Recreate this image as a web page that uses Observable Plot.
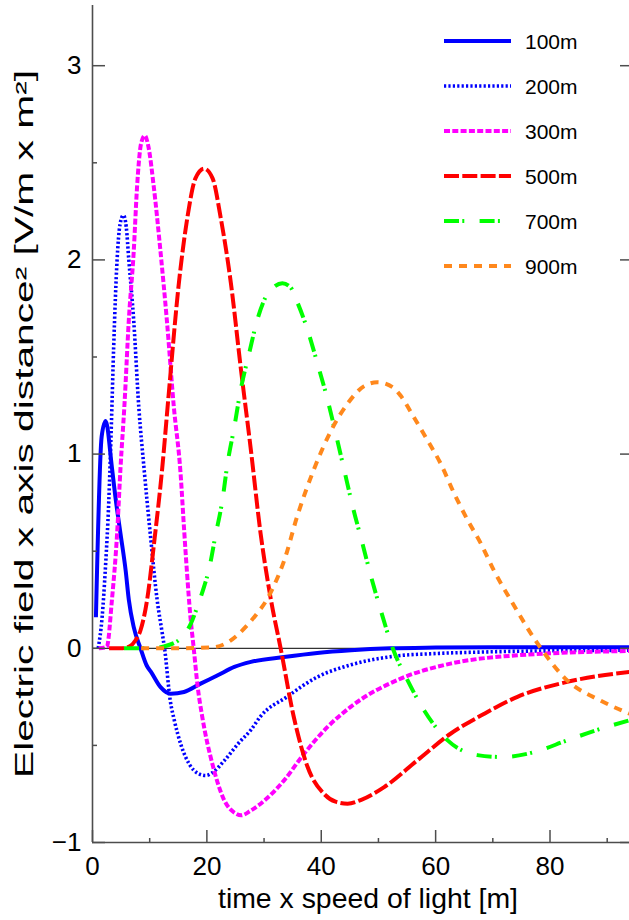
<!DOCTYPE html>
<html><head><meta charset="utf-8">
<script src="https://cdn.jsdelivr.net/npm/d3@7"></script>
<script src="https://cdn.jsdelivr.net/npm/@observablehq/plot@0.6"></script>
<style>
body{margin:0;background:#fff;}
#wrap{position:relative;width:629px;height:920px;}
#wrap svg.legend{position:absolute;left:0;top:0;}
</style></head><body><div id="wrap"></div>
<script>
const seriesNames = ["100m","200m","300m","500m","700m","900m"];
const seriesColors = ["#0000ff","#0000ff","#ff00ff","#ff0000","#00ff00","#ff881c"];
const seriesDash = [null,"2.2,2.2","6,2.3","15,3.3","15,3.3,2,15.3","8,7"];
const seriesWidth = [4,3.6,4,4,4,4];

const x100 = [0.6,1.6,2.3,3.4,4.0,4.9,5.8,6.35,7.2,8.4,9.5,10.2,11.9,13.7,16,18.9,21.9,24.8,27.7,33.5,39.3,45.2,52,60,70,80,93.9];
const y100 = [0.16,1.09,1.17,0.93,0.78,0.59,0.40,0.25,0.11,0.0,-0.09,-0.12,-0.2,-0.234,-0.225,-0.182,-0.139,-0.096,-0.07,-0.045,-0.024,-0.01,0.0,0.004,0.006,0.006,0.006];

const x200 = [1.0,1.68,2.27,2.85,3.3,3.7,4.3,4.8,5.4,5.9,6.35,7.2,8.1,9.0,10.1,11.3,12.2,12.6,13.6,14.3,15.5,17,18.5,19.8,21,23,25.5,27.7,29.4,34,39.3,45.2,52.7,60,68.4,80,93.9];
const y200 = [0.0,0.16,0.42,0.76,1.15,1.55,2.0,2.18,2.23,2.17,2.0,1.69,1.24,0.93,0.59,0.25,0.077,0.0,-0.27,-0.37,-0.5,-0.6,-0.645,-0.655,-0.64,-0.58,-0.49,-0.42,-0.35,-0.25,-0.148,-0.085,-0.041,-0.027,-0.019,-0.013,-0.01];

const x300 = [1.1,2.5,3.4,4.3,4.9,5.6,6.35,7.2,7.8,8.5,9.15,9.8,10.7,11.9,13.0,14.2,15.4,16.0,16.5,17.1,17.7,18.4,19.2,21,23,25,26,27.7,30.6,33.5,37,41.1,45.2,53.9,62.6,74.3,93.9];
const y300 = [0.0,0.007,0.25,0.59,0.93,1.26,1.69,2.04,2.38,2.6,2.64,2.58,2.38,2.04,1.69,1.25,0.9,0.62,0.4,0.17,0.0,-0.2,-0.354,-0.6,-0.78,-0.85,-0.86,-0.835,-0.77,-0.68,-0.543,-0.405,-0.30,-0.156,-0.079,-0.036,-0.014];

const x500 = [2.9,5,6.5,7.5,8.4,9.55,10.8,12.2,13.3,15.1,16.6,18,19.5,21,22.4,24.2,25.9,27.7,29.4,31.2,32.9,35.2,37.6,40.5,42.5,44.6,47,51,56.8,62.6,68.5,74.3,83,93.9];
const y500 = [0,0,0.01,0.04,0.093,0.25,0.55,0.93,1.3,1.88,2.22,2.42,2.47,2.42,2.22,1.88,1.45,1.02,0.59,0.25,0,-0.354,-0.61,-0.75,-0.79,-0.80,-0.78,-0.715,-0.577,-0.44,-0.337,-0.25,-0.173,-0.122];

const x700 = [5.5,10,12.5,15.4,17.2,18.4,19.5,20.4,21.5,22.7,23.6,24.8,25.9,27.4,28.8,30.3,31.7,33.2,34.6,35.7,37.6,39.3,41.1,42.5,44,45.5,47.2,48.7,50.4,52.5,55.1,58,62.1,67.3,71.8,77.2,83,88.9,93.9];
const y700 = [0,0,0.01,0.05,0.127,0.22,0.316,0.41,0.58,0.76,0.95,1.14,1.33,1.52,1.69,1.81,1.86,1.88,1.86,1.79,1.64,1.47,1.28,1.11,0.92,0.73,0.54,0.37,0.196,0.0,-0.165,-0.32,-0.474,-0.55,-0.56,-0.535,-0.474,-0.414,-0.371];

const x900 = [8.5,15,21,23.6,25.3,27.1,28.8,30.6,32,33.5,35.8,38.7,41.7,44.6,47.5,49.8,52.7,53.9,56.2,58.6,60.9,63.2,65.6,67.9,70.2,73.1,78.4,83,88.9,93.9];
const y900 = [0,0,0.005,0.03,0.067,0.12,0.18,0.256,0.34,0.45,0.68,0.92,1.12,1.26,1.35,1.37,1.34,1.30,1.19,1.07,0.95,0.80,0.66,0.54,0.40,0.25,0.0,-0.165,-0.27,-0.337];

const xMajor = [0,20,40,60,80];
const xMinor = [10,30,50,70,90];
const yMajor = [-1,0,1,2,3];
const yMinor = [-0.5,0.5,1.5,2.5];
const xTitle = "time x speed of light [m]";
const yTitle = "Electric field x axis distance\u00b2 [V/m x m\u00b2]";

const xs = [x100,x200,x300,x500,x700,x900];
const ys = [y100,y200,y300,y500,y700,y900];
const tables = xs.map((xa, k) => xa.map((x, i) => ({x, y: ys[k][i], s: seriesNames[k]})));

const font = "'Liberation Sans', Arial, Helvetica, sans-serif";
const axisColor = "#4d4d4d";
const W = 629, H = 920, ML = 92, MR = 0, MT = 5, MB = 78;
const frameW = W - ML - MR, frameH = H - MT - MB;

const lines = tables.map((t, k) => Plot.line(t, {
  x: "x", y: "y", stroke: seriesColors[k], strokeWidth: seriesWidth[k],
  strokeDasharray: seriesDash[k], curve: "monotone-x", strokeLinecap: "butt"
}));

const tickStyle = {stroke: axisColor, strokeWidth: 1.5};

const plot = Plot.plot({
  width: W, height: H,
  marginLeft: ML, marginRight: MR, marginTop: MT, marginBottom: MB,
  style: {fontFamily: font, background: "#fff", overflow: "visible"},
  x: {domain: [0, 93.9]},
  y: {domain: [-1, 3.31]},
  marks: [
    Plot.ruleY([0], {stroke: "#000", strokeWidth: 1}),
    ...lines,
    Plot.ruleX([0], {stroke: axisColor, strokeWidth: 1.6}),
    Plot.ruleY([-1], {stroke: axisColor, strokeWidth: 1.6}),
    Plot.ruleX(xMajor, {x: d => d, insetTop: frameH - 12, ...tickStyle}),
    Plot.ruleX(xMinor, {x: d => d, insetTop: frameH - 4, ...tickStyle}),
    Plot.ruleY(yMajor, {y: d => d, insetRight: frameW - 13, ...tickStyle}),
    Plot.ruleY(yMinor, {y: d => d, insetRight: frameW - 5, ...tickStyle}),
    Plot.ruleY(yMajor, {y: d => d, insetLeft: frameW - 9, ...tickStyle}),
    Plot.axisX(xMajor, {tickSize: 0, tickPadding: 14, fontSize: 26, fill: "#000", label: null, tickFormat: d => String(d)}),
    Plot.axisY(yMajor, {tickSize: 0, tickPadding: 11, fontSize: 26, fill: "#000", label: null, tickFormat: d => d < 0 ? "\u2212" + Math.abs(d) : String(d)}),
    Plot.text([xTitle], {frameAnchor: "bottom", dx: 7, dy: 65, fontSize: 28, fill: "#000", textAnchor: "middle"}),
    Plot.text([yTitle], {frameAnchor: "left", dx: -68, rotate: -90, fontSize: 25, fill: "#000", textAnchor: "middle"})
  ]
});

plot.querySelectorAll("text").forEach(t => {
  if (t.textContent.startsWith("Electric")) {
    t.setAttribute("textLength", 708);
    t.setAttribute("lengthAdjust", "spacingAndGlyphs");
  }
  if (t.textContent.startsWith("time x")) {
    t.setAttribute("textLength", 300);
    t.setAttribute("lengthAdjust", "spacingAndGlyphs");
  }
});

const wrap = document.getElementById("wrap");
wrap.appendChild(plot);

// legend overlay
const legendRows = [41, 86, 131, 176, 221, 266];
const lg = d3.create("svg").attr("class", "legend").attr("width", W).attr("height", 300)
  .style("font-family", font);
seriesNames.forEach((name, k) => {
  lg.append("line").attr("x1", 444).attr("x2", 511).attr("y1", legendRows[k]).attr("y2", legendRows[k])
    .attr("stroke", seriesColors[k]).attr("stroke-width", seriesWidth[k])
    .attr("stroke-dasharray", seriesDash[k]);
  lg.append("text").attr("x", 525).attr("y", legendRows[k]).attr("dy", "0.36em")
    .attr("font-size", 21).attr("fill", "#000").text(name);
});
wrap.appendChild(lg.node());
</script></body></html>
